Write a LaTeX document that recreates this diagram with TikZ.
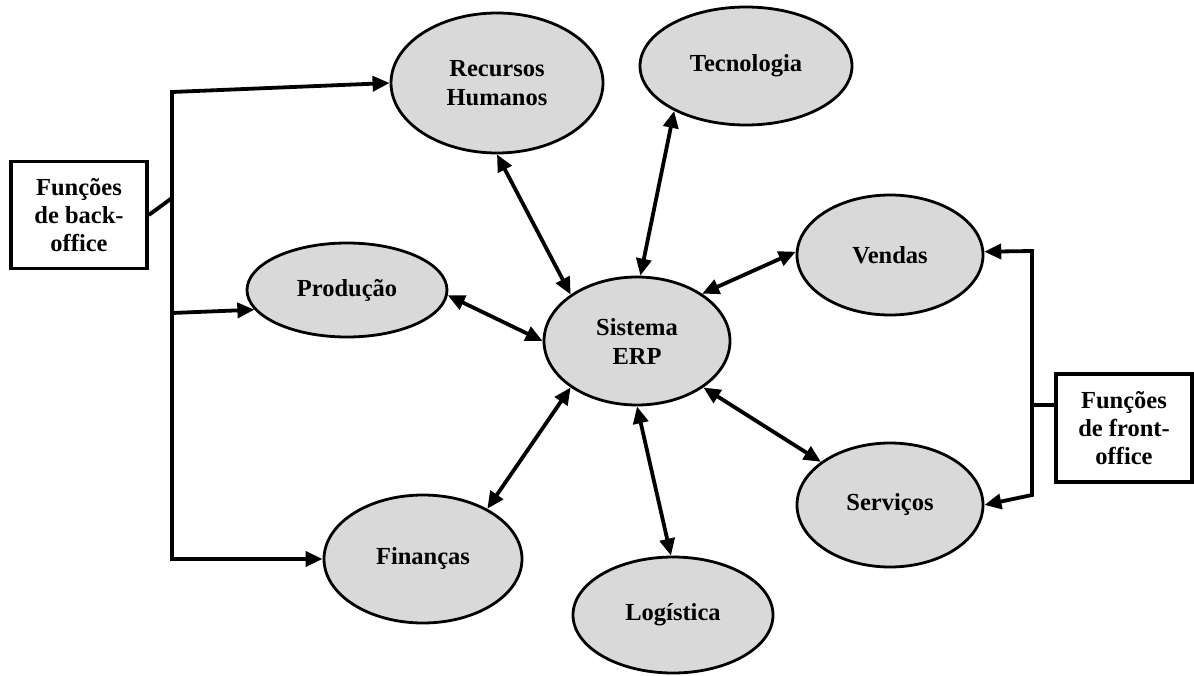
\documentclass[tikz,border=0pt]{standalone}
\usepackage{fontspec}
\setmainfont{Liberation Serif}
\usetikzlibrary{arrows.meta,shapes.geometric}
\begin{document}
\begin{tikzpicture}[x=1pt,y=-1pt,
  wire/.style={line width=3.8pt,line join=miter},
  tip/.tip={Triangle[length=17pt,width=15pt]},
  ell/.style={ellipse,draw,line width=2.8pt,fill={rgb,255:red,217;green,217;blue,217},
    inner sep=0pt,align=center,font=\fontsize{24.5}{29}\selectfont\bfseries},
  fbox/.style={rectangle,draw,line width=3.6pt,fill=white,inner sep=0pt,align=center,
    minimum width=136pt,minimum height=107pt,font=\fontsize{24.5}{28}\selectfont\bfseries}]
\useasboundingbox (0,0) rectangle (1194,675);

% ellipses
\node[ell,minimum width=212pt,minimum height=140pt] (rh) at (497,83) {Recursos\\Humanos};
\node[ell,minimum width=212pt,minimum height=118pt] (tec) at (746,66) {Tecnologia};
\node[ell,minimum width=200pt,minimum height=94pt] (prod) at (347,290) {Produção};
\node[ell,minimum width=186pt,minimum height=128pt] (erp) at (637,341) {Sistema\\ERP};
\node[ell,minimum width=198pt,minimum height=128pt] (fin) at (423,559) {Finanças};
\node[ell,minimum width=200pt,minimum height=116pt] (log) at (673,615) {Logística};
\node[ell,minimum width=186pt,minimum height=120pt] (ven) at (890,255) {Vendas};
\node[ell,minimum width=186pt,minimum height=124pt] (ser) at (890,505) {Serviços};

% function boxes
\node[fbox] (bk) at (79,215) {Funções\\de back-\\office};
\node[fbox,minimum height=108pt] (fr) at (1124,428) {Funções\\de front-\\office};

% back-office bus
\coordinate (bt) at (172,92);
\coordinate (bb) at (172,559);
\coordinate (bm) at (172,198);
\coordinate (bp) at (172,313);
\draw[wire,{tip}-{tip}] (rh.west) -- (bt) -- (bb) -- (fin.west);
\draw[wire,-{tip}] (bp) -- (prod.192);
\draw[wire] (bk.east) -- (bm);

% front-office bus
\coordinate (ft) at (1032,251);
\coordinate (fb) at (1032,495);
\coordinate (fm) at (1032,405);
\draw[wire,{tip}-{tip}] (ven.2) -- (ft) -- (fb) -- (ser.east);
\draw[wire] (fm) -- (fm -| fr.west);

% links to the ERP system
\draw[wire,{tip}-{tip}] (rh.270) -- (erp.145);
\draw[wire,{tip}-{tip}] (tec.212) -- (erp.87);
\draw[wire,{tip}-{tip}] (ven.178) -- (erp.36);
\draw[wire,{tip}-{tip}] (prod.-3) -- (erp.180);
\draw[wire,{tip}-{tip}] (fin.38) -- (erp.215);
\draw[wire,{tip}-{tip}] (log.92) -- (erp.270);
\draw[wire,{tip}-{tip}] (ser.148) -- (erp.325);
\end{tikzpicture}
\end{document}
